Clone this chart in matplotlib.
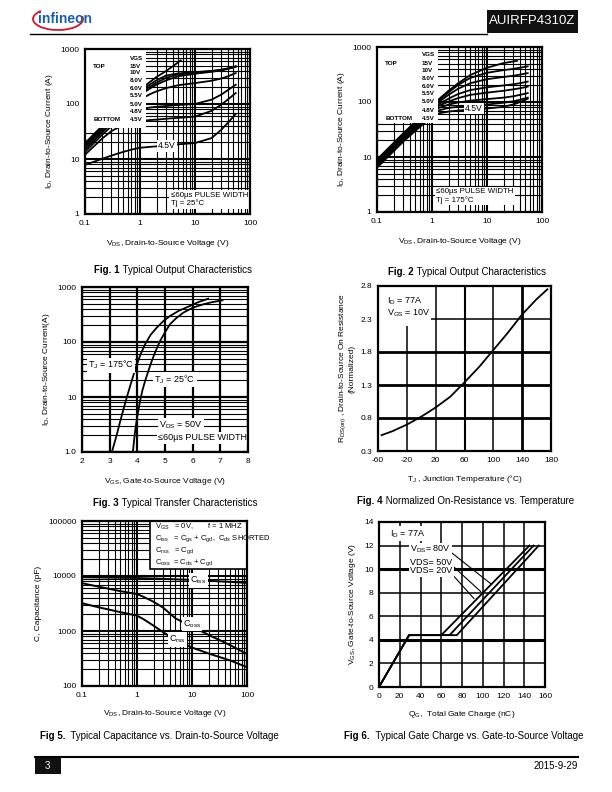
import matplotlib
matplotlib.use('Agg')
import matplotlib.pyplot as plt
from matplotlib.patches import Rectangle, Arc
from matplotlib.ticker import NullFormatter

plt.rcParams['font.family'] = ['Liberation Sans', 'DejaVu Sans']
plt.rcParams['mathtext.fontset'] = 'custom'
plt.rcParams['mathtext.rm'] = 'Liberation Sans'
plt.rcParams['mathtext.it'] = 'Liberation Sans:italic'
plt.rcParams['mathtext.bf'] = 'Liberation Sans:bold'
plt.rcParams['axes.unicode_minus'] = False

# ---- Fig 1: output characteristics, Tj = 25C ----
f1_vgs = ['15V', '10V', '8.0V', '6.0V', '5.5V', '5.0V', '4.8V', '4.5V']
f1_vds = [0.1, 0.2, 0.3, 0.5, 0.7, 1, 1.5, 2, 3, 5, 10, 20, 30, 40, 55]
f1_vds_15 = [0.1, 0.2, 0.3, 0.5, 0.7, 1, 1.5, 2, 3, 4, 5.5]
f1_id_15 = [19.5, 39, 58, 95, 130, 180, 250, 310, 400, 490, 620]
f1_id_10 = [18.5, 37, 55, 90, 122, 168, 225, 270, 330, 360, 380, 400, 420, 445, 485]
f1_id_8 = [17.5, 35, 52, 85, 115, 155, 205, 245, 300, 345, 372, 395, 415, 440, 480]
f1_id_6 = [16.5, 33, 49, 80, 108, 145, 190, 225, 270, 320, 355, 385, 408, 435, 475]
f1_id_55 = [15, 30, 44, 70, 92, 120, 150, 170, 195, 220, 240, 265, 290, 320, 365]
f1_id_5 = [13.5, 27, 39, 58, 70, 80, 86, 89, 92, 96, 100, 120, 148, 180, 224]
f1_id_48 = [12, 23, 32, 42, 46, 49, 51, 52, 54, 56, 59, 75, 97, 122, 158]
f1_id_45 = [7.8, 10, 11.5, 13.5, 14.8, 16, 16.6, 17, 17.5, 18.5, 19.5, 24, 34, 46, 66]

# ---- Fig 2: output characteristics, Tj = 175C ----
f2_vds = [0.1, 0.2, 0.3, 0.5, 0.7, 1, 1.3, 2, 3, 5, 10, 20, 30, 40, 55]
f2_vds_15 = [0.1, 0.2, 0.3, 0.5, 0.7, 1, 1.3, 2, 3, 5, 10, 20, 35]
f2_id_15 = [9.0, 18, 27, 44, 61, 86, 110, 160, 220, 310, 420, 510, 560]
f2_id_10 = [8.6, 17, 25.5, 42, 58, 82, 105, 150, 205, 275, 340, 380, 400, 420, 445]
f2_id_8 = [8.2, 16.3, 24.5, 40, 55, 78, 98, 135, 175, 220, 260, 285, 300, 315, 335]
f2_id_6 = [7.8, 15.5, 23, 38, 52, 72, 90, 115, 140, 165, 185, 200, 210, 220, 235]
f2_id_55 = [7.4, 14.7, 22, 36, 49, 68, 84, 102, 118, 135, 148, 160, 170, 178, 190]
f2_id_5 = [7.0, 14, 21, 34, 46, 63, 77, 90, 98, 106, 113, 120, 127, 135, 145]
f2_id_48 = [6.7, 13.3, 20, 32, 43, 58, 70, 78, 82, 86, 90, 97, 103, 110, 120]
f2_id_45 = [6.4, 12.7, 19, 30, 40, 53, 62, 67, 70, 73, 76, 82, 90, 100, 115]

# ---- Fig 3: transfer characteristics ----
f3_vgs_175 = [3.08, 3.25, 3.38, 3.5, 3.62, 3.74, 3.86, 3.98, 4.12, 4.28, 4.48, 4.7, 4.94, 5.18, 5.5, 5.9, 6.2, 6.56]
f3_id_175 = [1.0, 2.0, 3.6, 6.0, 9.9, 15.8, 25, 39, 60, 91, 135, 182, 240, 297, 370, 452, 530, 612]
f3_vgs_25 = [3.84, 3.88, 3.92, 4.0, 4.1, 4.18, 4.28, 4.4, 4.52, 4.66, 4.82, 5.0, 5.18, 5.4, 5.66, 6.0, 6.38, 6.7, 7.08]
f3_id_25 = [1.0, 1.6, 2.4, 4.5, 8.5, 13, 19.5, 30, 45, 68, 104, 150, 210, 270, 341, 420, 484, 530, 573]

# ---- Fig 4: normalized on-resistance ----
f4_tj = [-55, -40, -20, 0, 20, 40, 60, 80, 100, 120, 140, 160, 175]
f4_rds = [0.54, 0.60, 0.70, 0.82, 0.96, 1.12, 1.34, 1.57, 1.83, 2.09, 2.37, 2.60, 2.75]

# ---- Fig 5: capacitance ----
f5_vds = [0.1, 0.2, 0.5, 1, 1.3, 2, 3, 5, 10, 20, 50, 100]
f5_ciss = [9500, 9400, 9300, 9200, 9100, 9000, 8900, 8700, 8500, 8200, 7800, 7500]
f5_coss = [7400, 6400, 5300, 4700, 4200, 3400, 2650, 1700, 1200, 850, 550, 380]
f5_crss = [3200, 2700, 2200, 1900, 1650, 1250, 950, 680, 500, 390, 290, 220]

# ---- Fig 6: gate charge ----
f6_vgs = [0, 4.4, 4.4, 12]
f6_qg_20 = [0, 29, 60, 145]
f6_qg_50 = [0, 29, 68, 149]
f6_qg_80 = [0, 29, 75, 154]

W, H = 612, 792
fig = plt.figure(figsize=(W / 100, H / 100), dpi=100)
FS_TICK = 6
FS_LAB = 6
FS_CAP = 7


def add_ax(x0, y0, x1, y1):
    ax = fig.add_axes([x0 / W, 1 - y1 / H, (x1 - x0) / W, (y1 - y0) / H])
    for s in ax.spines.values():
        s.set_linewidth(1.6)
        s.set_zorder(6)
    ax.tick_params(which='both', length=0, labelsize=FS_TICK, pad=4)
    return ax


def ftext(x, y, s, **kw):
    kw.setdefault('va', 'center')
    fig.text(x / W, 1 - y / H, s, **kw)


def caption(xsplit, y, head, rest):
    ftext(xsplit, y, head, ha='right', fontsize=FS_CAP, weight='bold')
    ftext(xsplit, y, rest, ha='left', fontsize=FS_CAP)


def loggrid(ax):
    ax.grid(which='major', color='k', lw=1.5, zorder=0)
    ax.grid(which='minor', color='k', lw=0.8, zorder=0)
    ax.set_axisbelow(True)


white = dict(fc='white', ec='none', pad=1)

# header
ftext(38, 19, 'infineon', fontsize=10, color='#1b5ea8', weight='bold', ha='left')
fig.patches.append(Arc((58 / W, 1 - 19 / H), 50 / W, 22 / H, theta1=160, theta2=365,
                       transform=fig.transFigure, color='#d9122b', lw=1.3))
fig.patches.append(Rectangle((487 / W, 1 - 33 / H), 91 / W, 23 / H, transform=fig.transFigure,
                             fc='#111111', ec='none'))
ftext(532.5, 21.5, 'AUIRFP4310Z', color='white', fontsize=9.5, ha='center')
fig.lines.append(plt.Line2D([30 / W, 487 / W], [1 - 33.5 / H, 1 - 33.5 / H], transform=fig.transFigure,
                            color='k', lw=1))

# footer
fig.lines.append(plt.Line2D([35 / W, 578 / W], [1 - 757 / H, 1 - 757 / H], transform=fig.transFigure,
                            color='k', lw=1.5))
fig.patches.append(Rectangle((35 / W, 1 - 774 / H), 26 / W, 17 / H, transform=fig.transFigure,
                             fc='#111111', ec='none'))
ftext(47, 766, '3', color='white', fontsize=7, ha='center')
ftext(578, 766, '2015-9-29', fontsize=7, ha='right')


def output_fig(ax, vds, vds15, id15, curves, box, leg_y, tj, pulse_xy, lab45):
    loggrid(ax)
    ax.plot(vds15, id15, color='k', lw=1.3, zorder=2)
    for c in curves:
        ax.plot(vds, c, color='k', lw=1.3, zorder=2)
    ax.set_xscale('log')
    ax.set_yscale('log')
    ax.set_xlim(0.1, 100)
    ax.set_ylim(1, 1000)
    ax.set_xticks([0.1, 1, 10, 100], ['0.1', '1', '10', '100'])
    ax.set_yticks([1, 10, 100, 1000], ['1', '10', '100', '1000'])
    ax.xaxis.set_minor_formatter(NullFormatter())
    ax.yaxis.set_minor_formatter(NullFormatter())
    ax.add_patch(Rectangle((0, box[1]), box[0], 1 - box[1], transform=ax.transAxes,
                           fc='white', ec='none', zorder=3))
    kw = dict(transform=ax.transAxes, fontsize=4.5, weight='bold', va='center', zorder=4)
    ax.text(0.27, leg_y[0], 'VGS', **kw)
    ax.text(0.05, leg_y[1], 'TOP', **kw)
    ax.text(0.05, leg_y[-1], 'BOTTOM', **kw)
    for lab, yy in zip(f1_vgs, leg_y[1:]):
        ax.text(0.27, yy, lab, **kw)
    ax.text(pulse_xy[0], pulse_xy[1], '\u226460\u00b5s PULSE WIDTH\nTj = ' + tj, fontsize=5.7,
            va='center', ha='left', linespacing=1.15, bbox=white, zorder=4)
    ax.text(lab45[0], lab45[1], '4.5V', fontsize=6.2, ha='center', va='center', bbox=white, zorder=4)
    ax.set_xlabel(r'V$_{\mathrm{DS}}$, Drain-to-Source Voltage (V)', fontsize=FS_LAB, labelpad=8)
    ax.set_ylabel(r'I$_{\mathrm{D}}$, Drain-to-Source Current (A)', fontsize=FS_LAB, labelpad=4)


# Fig 1
ax1 = add_ax(85, 49, 250, 214)
output_fig(ax1, f1_vds, f1_vds_15, f1_id_15,
           [f1_id_10, f1_id_8, f1_id_6, f1_id_55, f1_id_5, f1_id_48, f1_id_45],
           (0.369, 0.52), [0.945, 0.895, 0.858, 0.81, 0.761, 0.717, 0.666, 0.621, 0.571],
           '25\u00b0C', (3.6, 1.85), (3.1, 17.4))
caption(120, 270, 'Fig. 1', ' Typical Output Characteristics')

# Fig 2
ax2 = add_ax(377, 47, 542, 212)
output_fig(ax2, f2_vds, f2_vds_15, f2_id_15,
           [f2_id_10, f2_id_8, f2_id_6, f2_id_55, f2_id_5, f2_id_48, f2_id_45],
           (0.37, 0.537), [0.956, 0.903, 0.855, 0.809, 0.763, 0.718, 0.668, 0.618, 0.569],
           '175\u00b0C', (1.2, 1.95), (5.8, 76))
caption(414, 272, 'Fig. 2', ' Typical Output Characteristics')

# Fig 3
ax3 = add_ax(82, 287, 248, 452)
ax3.plot(f3_vgs_175, f3_id_175, color='k', lw=1.3, zorder=2)
ax3.plot(f3_vgs_25, f3_id_25, color='k', lw=1.3, zorder=2)
ax3.set_yscale('log')
ax3.set_xlim(2, 8)
ax3.set_ylim(1, 1000)
ax3.set_xticks(range(2, 9))
ax3.set_yticks([1, 10, 100, 1000], ['1.0', '10', '100', '1000'])
ax3.yaxis.set_minor_formatter(NullFormatter())
ax3.grid(which='major', color='k', lw=1.6, zorder=0)
ax3.grid(which='minor', axis='y', color='k', lw=0.8, zorder=0)
ax3.set_axisbelow(True)
ax3.text(2.22, 38, r'T$_{\mathrm{J}}$ = 175$\degree$C', fontsize=6.5, va='center', bbox=white, zorder=4)
ax3.text(4.62, 21, r'T$_{\mathrm{J}}$ = 25$\degree$C', fontsize=6.5, va='center', bbox=white, zorder=4)
ax3.text(4.8, 3.1, r'V$_{\mathrm{DS}}$ = 50V', fontsize=6.5, va='center', bbox=white, zorder=4)
ax3.text(4.76, 1.8, '\u226460\u00b5s PULSE WIDTH', fontsize=6.5, va='center', bbox=white, zorder=4)
ax3.set_xlabel(r'V$_{\mathrm{GS}}$, Gate-to-Source Voltage (V)', fontsize=FS_LAB, labelpad=8)
ax3.set_ylabel(r'I$_{\mathrm{D}}$, Drain-to-Source Current(A)', fontsize=FS_LAB, labelpad=4)
caption(119, 503, 'Fig. 3', ' Typical Transfer Characteristics')

# Fig 4
ax4 = add_ax(378, 286, 551, 451)
ax4.set_xlim(-60, 180)
ax4.set_ylim(0.3, 2.8)
ax4.set_xticks(range(-60, 181, 40))
ax4.set_yticks([0.3, 0.8, 1.3, 1.8, 2.3, 2.8], ['0.3', '0.8', '1.3', '1.8', '2.3', '2.8'])
for yy, lw in [(0.8, 2), (1.3, 2), (1.8, 2), (2.3, 1.1)]:
    ax4.axhline(yy, color='k', lw=lw, zorder=0)
for xx, lw in [(-20, 1.1), (20, 1.1), (60, 1.5), (100, 1.1), (140, 2)]:
    ax4.axvline(xx, color='k', lw=lw, zorder=0)
ax4.plot(f4_tj, f4_rds, color='k', lw=1.3, zorder=2)
ax4.add_patch(Rectangle((-60, 2.2), 74, 0.6, fc='white', ec='none', zorder=1))
ax4.text(-48, 2.58, r'I$_{\mathrm{D}}$ = 77A', fontsize=6.5, va='center', zorder=4)
ax4.text(-48, 2.39, r'V$_{\mathrm{GS}}$ = 10V', fontsize=6.5, va='center', zorder=4)
ax4.set_xlabel(r'T$_{\mathrm{J}}$ , Junction Temperature ($\degree$C)', fontsize=FS_LAB, labelpad=7)
ax4.set_ylabel(r'R$_{\mathrm{DS(on)}}$ , Drain-to-Source On Resistance' + '\n(Normalized)',
               fontsize=FS_LAB, labelpad=4, linespacing=1.1)
caption(383, 501, 'Fig. 4', ' Normalized On-Resistance vs. Temperature')

# Fig 5
ax5 = add_ax(82, 521, 247, 686)
loggrid(ax5)
ax5.plot(f5_vds, f5_ciss, color='k', lw=1.4, zorder=2)
ax5.plot(f5_vds, f5_coss, color='k', lw=1.4, zorder=2)
ax5.plot(f5_vds, f5_crss, color='k', lw=1.4, zorder=2)
ax5.set_xscale('log')
ax5.set_yscale('log')
ax5.set_xlim(0.1, 100)
ax5.set_ylim(100, 100000)
ax5.set_xticks([0.1, 1, 10, 100], ['0.1', '1', '10', '100'])
ax5.set_yticks([100, 1000, 10000, 100000], ['100', '1000', '10000', '100000'])
ax5.xaxis.set_minor_formatter(NullFormatter())
ax5.yaxis.set_minor_formatter(NullFormatter())
ax5.add_patch(Rectangle((0.41, 0.71), 0.59, 0.29, transform=ax5.transAxes,
                        fc='white', ec='k', lw=1.2, zorder=3))
leg5 = [r'V$_{\mathrm{GS}}$   = 0V,       f = 1 MHZ',
        r'C$_{\mathrm{iss}}$   = C$_{\mathrm{gs}}$ + C$_{\mathrm{gd}}$,  C$_{\mathrm{ds}}$ SHORTED',
        r'C$_{\mathrm{rss}}$   = C$_{\mathrm{gd}}$',
        r'C$_{\mathrm{oss}}$  = C$_{\mathrm{ds}}$ + C$_{\mathrm{gd}}$']
for i, s in enumerate(leg5):
    ax5.text(0.44, 0.965 - i * 0.072, s, transform=ax5.transAxes, fontsize=5.5, va='center', zorder=4)
ax5.text(13, 8300, r'C$_{\mathrm{iss}}$', fontsize=6.5, ha='center', va='center', bbox=white, zorder=4)
ax5.text(10, 1350, r'C$_{\mathrm{oss}}$', fontsize=6.5, ha='center', va='center', bbox=white, zorder=4)
ax5.text(5.5, 700, r'C$_{\mathrm{rss}}$', fontsize=6.5, ha='center', va='center', bbox=white, zorder=4)
ax5.set_xlabel(r'V$_{\mathrm{DS}}$, Drain-to-Source Voltage (V)', fontsize=FS_LAB, labelpad=7)
ax5.set_ylabel('C, Capacitance (pF)', fontsize=FS_LAB, labelpad=4)
caption(65, 736, 'Fig 5.', '  Typical Capacitance vs. Drain-to-Source Voltage')

# Fig 6
ax6 = add_ax(379, 522, 545, 687)
ax6.set_xlim(0, 160)
ax6.set_ylim(0, 14)
ax6.set_xticks(range(0, 161, 20))
ax6.set_yticks(range(0, 15, 2))
for yy in [2, 6, 8, 12]:
    ax6.axhline(yy, color='k', lw=1.1, zorder=0)
for yy in [4, 10]:
    ax6.axhline(yy, color='k', lw=2.2, zorder=0)
for xx in range(20, 160, 20):
    ax6.axvline(xx, color='k', lw=1.1, zorder=0)
ax6.plot(f6_qg_20, f6_vgs, color='k', lw=1.3, zorder=2)
ax6.plot(f6_qg_50, f6_vgs, color='k', lw=1.3, zorder=2)
ax6.plot(f6_qg_80, f6_vgs, color='k', lw=1.3, zorder=2)
ax6.plot([67, 108.6], [11.6, 8.7], color='k', lw=0.8, zorder=2)
ax6.plot([67, 98], [10.6, 8.1], color='k', lw=0.8, zorder=2)
ax6.plot([67, 91.6], [9.9, 7.5], color='k', lw=0.8, zorder=2)
ax6.text(10.5, 13.0, r'I$_{\mathrm{D}}$ = 77A', fontsize=6.5, va='center', bbox=white, zorder=4)
ax6.text(30, 11.65, r'V$_{\mathrm{DS}}$= 80V', fontsize=6.5, va='center', bbox=white, zorder=4)
ax6.text(30, 10.6, 'VDS= 50V', fontsize=6.5, va='center', bbox=white, zorder=4)
ax6.text(30, 9.85, 'VDS= 20V', fontsize=6.5, va='center', bbox=white, zorder=4)
ax6.set_xlabel(r'Q$_{\mathrm{G}}$,  Total Gate Charge (nC)', fontsize=FS_LAB, labelpad=7)
ax6.set_ylabel(r'V$_{\mathrm{GS}}$, Gate-to-Source Voltage (V)', fontsize=FS_LAB, labelpad=4)
caption(370, 736, 'Fig 6.', '  Typical Gate Charge vs. Gate-to-Source Voltage')

fig.savefig('out.png', dpi=100)
